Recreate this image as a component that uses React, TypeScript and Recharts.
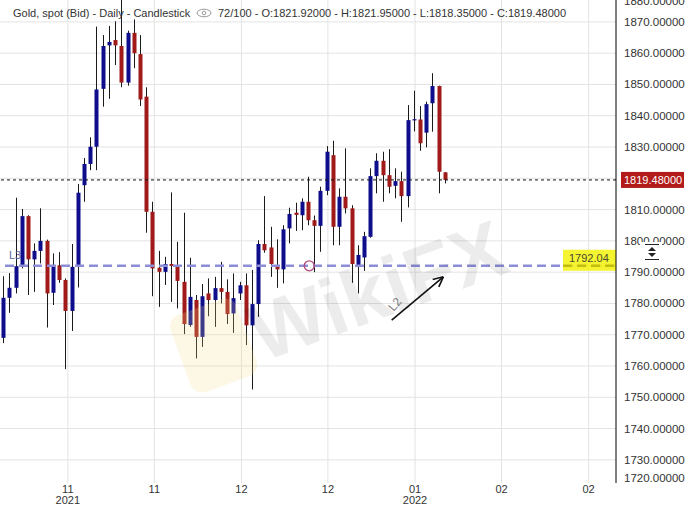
import React from 'react';
import { ComposedChart, Bar, XAxis, YAxis, CartesianGrid, ReferenceLine, ReferenceDot } from 'recharts';

const FONT = "'Liberation Sans', Arial, sans-serif";

const opens = [1769.0, 1781.8, 1785.0, 1791.7, 1807.9, 1794.1, 1796.8, 1800.0, 1783.4, 1792.2, 1787.5, 1777.6, 1792.2, 1817.8, 1824.6, 1830.1, 1848.6, 1862.5, 1864.2, 1862.3, 1850.6, 1866.5, 1859.7, 1846.1, 1809.3, 1791.4, 1790.1, 1792.6, 1791.7, 1786.9, 1773.1, 1781.1, 1769.3, 1783.2, 1781.1, 1784.9, 1783.7, 1776.8, 1783.2, 1785.8, 1773.0, 1779.8, 1799.0, 1797.9, 1791.9, 1790.9, 1804.0, 1809.0, 1808.2, 1812.5, 1806.6, 1804.8, 1816.0, 1827.4, 1804.5, 1814.1, 1810.4, 1792.3, 1794.7, 1801.3, 1820.7, 1825.6, 1821.0, 1817.6, 1819.1, 1814.3, 1838.6, 1838.8, 1834.6, 1844.0, 1849.5, 1821.92];
const highs = [1788.7, 1789.7, 1813.8, 1810.2, 1808.2, 1799.2, 1810.4, 1800.4, 1796.0, 1796.4, 1788.0, 1799.0, 1818.2, 1826.5, 1833.1, 1868.5, 1865.8, 1868.7, 1870.2, 1877.5, 1867.2, 1870.8, 1865.8, 1849.1, 1812.5, 1796.8, 1794.9, 1815.5, 1799.7, 1809.0, 1794.6, 1782.7, 1786.2, 1788.0, 1788.5, 1793.3, 1787.7, 1789.6, 1786.9, 1789.6, 1790.7, 1800.2, 1814.3, 1804.5, 1800.5, 1805.0, 1810.6, 1812.2, 1813.6, 1820.5, 1808.1, 1817.3, 1830.3, 1832.0, 1816.8, 1829.6, 1811.4, 1798.6, 1802.9, 1823.2, 1828.0, 1828.5, 1829.3, 1823.2, 1822.1, 1843.4, 1848.0, 1843.1, 1844.5, 1853.6, 1849.6, 1821.95];
const lows = [1767.3, 1777.0, 1783.2, 1791.2, 1782.7, 1783.7, 1792.8, 1772.3, 1779.5, 1786.6, 1759.0, 1771.2, 1785.1, 1812.5, 1822.6, 1822.6, 1842.9, 1845.4, 1856.2, 1849.1, 1849.6, 1855.2, 1843.1, 1802.6, 1782.3, 1778.9, 1785.9, 1780.5, 1778.4, 1770.2, 1772.5, 1762.4, 1766.1, 1775.9, 1772.5, 1780.0, 1773.4, 1770.6, 1781.1, 1766.7, 1752.5, 1775.7, 1796.2, 1788.5, 1785.0, 1786.4, 1799.2, 1803.2, 1803.4, 1805.0, 1790.0, 1796.5, 1814.6, 1798.6, 1798.6, 1808.8, 1786.6, 1783.2, 1790.4, 1801.0, 1815.2, 1812.5, 1815.2, 1813.6, 1806.1, 1810.7, 1835.0, 1828.8, 1829.9, 1834.9, 1815.2, 1818.35];
const closes = [1781.8, 1785.0, 1791.9, 1807.9, 1794.1, 1796.8, 1800.0, 1783.2, 1791.9, 1787.5, 1777.6, 1791.7, 1815.4, 1824.6, 1830.1, 1848.4, 1862.3, 1863.6, 1862.5, 1850.6, 1866.5, 1860.0, 1845.2, 1809.3, 1791.2, 1790.1, 1792.6, 1792.0, 1787.2, 1773.4, 1782.1, 1769.3, 1782.3, 1781.1, 1784.9, 1783.7, 1776.6, 1781.7, 1785.8, 1773.0, 1779.8, 1799.0, 1797.0, 1792.6, 1790.9, 1803.7, 1808.6, 1808.3, 1812.5, 1806.6, 1804.8, 1816.0, 1828.5, 1804.5, 1814.1, 1810.4, 1792.6, 1795.5, 1801.5, 1820.7, 1825.6, 1821.0, 1817.3, 1819.1, 1814.3, 1838.6, 1838.9, 1831.2, 1843.7, 1849.5, 1822.1, 1819.48];

const totalSlots = 99;
const yTicks = [1720, 1730, 1740, 1750, 1760, 1770, 1780, 1790, 1800, 1810, 1820, 1830, 1840, 1850, 1860, 1870, 1880];
const gridValues = [1730, 1740, 1750, 1760, 1770, 1780, 1790, 1800, 1810, 1820, 1830, 1840, 1850, 1860, 1870];
const xTickPos = [10.4, 24.3, 38.3, 52.2, 66.2, 80.1, 94.1];
const xTickMonth = ['11', '11', '12', '12', '01', '02', '02'];
const xTickYear = ['2021', '', '', '', '2022', '', ''];
const lastPrice = 1819.48;
const levelL3 = 1792.04;
const circlePoint = { x: 49.2, y: 1792.04 };
const arrowFrom = { x: 62.45, y: 1774.7 };
const arrowTo = { x: 70.75, y: 1788.5 };
const headerLeft = 'Gold, spot (Bid) - Daily - Candlestick';
const headerRight = '72/100 - O:1821.92000 - H:1821.95000 - L:1818.35000 - C:1819.48000';

const CHART_W = 688;
const CHART_H = 507;
const XAXIS_H = 24;
const AXIS_Y = CHART_H - XAXIS_H;

const BLUE = '#0e0e8c';
const RED = '#a01a1a';

const data = Array.from({ length: totalSlots }, (_, i) =>
  i < opens.length
    ? { i, o: opens[i], h: highs[i], l: lows[i], c: closes[i], range: [lows[i], highs[i]] }
    : { i, range: null }
);

const Candle = (props: any) => {
  const { x, width, payload } = props;
  let { y, height } = props;
  if (!payload || payload.o == null || height == null) return null;
  if (height < 0) { y += height; height = -height; }
  const { o, h, l, c } = payload;
  const k = height / (h - l);
  const rc = Math.round(x + width / 2);
  const yO = y + (h - o) * k;
  const yC = y + (h - c) * k;
  const up = c >= o;
  const top = Math.min(yO, yC);
  const bh = Math.max(Math.abs(yO - yC), 1.2);
  return (
    <g>
      <line x1={rc + 0.5} x2={rc + 0.5} y1={y} y2={y + height} stroke="#1a1a1a" strokeWidth={1} />
      <rect x={rc - 1.5} y={top} width={4} height={bh} fill={up ? BLUE : RED} />
    </g>
  );
};

const YTick = (props: any) => {
  const { x, y, payload } = props;
  const v = Number(payload.value);
  // the last-price marker hides the tick label it sits on
  if (Math.abs(v - lastPrice) < 3) return null;
  const yy = Math.min(Math.max(y, 1), AXIS_Y - 5);
  return (
    <text x={x + 8} y={yy} dy={4} fontSize={11.5} fill="#333" fontFamily={FONT}>
      {v.toFixed(5)}
    </text>
  );
};

const XTick = (props: any) => {
  const { x, payload } = props;
  const idx = xTickPos.indexOf(payload.value);
  if (idx < 0) return null;
  return (
    <g>
      <text x={x} y={AXIS_Y + 10} textAnchor="middle" fontSize={11} fill="#333" fontFamily={FONT}>{xTickMonth[idx]}</text>
      {xTickYear[idx] ? (
        <text x={x} y={AXIS_Y + 21} textAnchor="middle" fontSize={11} fill="#333" fontFamily={FONT}>{xTickYear[idx]}</text>
      ) : null}
    </g>
  );
};

const LastPriceLabel = (props: any) => {
  const vb = props.viewBox || {};
  const right = vb.x + vb.width;
  const y = vb.y;
  return (
    <g>
      <rect x={right + 5} y={y - 8} width={63} height={16} fill="#b31b1b" />
      <text x={right + 8} y={y + 4} fontSize={11} fill="#fff" fontFamily={FONT}>{lastPrice.toFixed(5)}</text>
    </g>
  );
};

const L3Label = (props: any) => {
  const vb = props.viewBox || {};
  const right = vb.x + vb.width;
  const y = vb.y;
  return (
    <g>
      <text x={vb.x + 9} y={y - 7} fontSize={11} fill="#5a68aa" fontFamily={FONT}>L3</text>
      <rect x={right - 53} y={y - 16} width={53} height={21} fill="#f3f31a" opacity={0.9} />
      <line x1={right - 53} x2={right} y1={y} y2={y} stroke="#c4bd10" strokeWidth={2.5} strokeDasharray="9 5" />
      <text x={right - 47} y={y - 4} fontSize={11} fill="#4a4a30" fontFamily={FONT}>{levelL3.toFixed(2)}</text>
    </g>
  );
};

const ArrowShape = (props: any) => {
  const { x1, y1, x2, y2 } = props;
  if (x1 == null) return null;
  const ang = Math.atan2(y2 - y1, x2 - x1);
  const len = 11;
  const a1 = ang + Math.PI - 0.45;
  const a2 = ang + Math.PI + 0.45;
  return (
    <g>
      <line x1={x1} y1={y1} x2={x2} y2={y2} stroke="#111" strokeWidth={1.6} />
      <line x1={x2} y1={y2} x2={x2 + len * Math.cos(a1)} y2={y2 + len * Math.sin(a1)} stroke="#111" strokeWidth={1.6} />
      <line x1={x2} y1={y2} x2={x2 + len * Math.cos(a2)} y2={y2 + len * Math.sin(a2)} stroke="#111" strokeWidth={1.6} />
      <text x={x1 + 2} y={y1 - 8} fontSize={12} fill="#888" fontFamily={FONT} transform={`rotate(-50 ${x1 + 2} ${y1 - 8})`}>L2</text>
    </g>
  );
};

export default function App() {
  return (
    <div style={{ position: 'absolute', left: 0, top: 0, width: CHART_W, height: CHART_H, background: '#fff', fontFamily: FONT }}>
      <ComposedChart width={CHART_W} height={CHART_H} data={data} margin={{ top: 0, right: 0, bottom: 0, left: 0 }} barCategoryGap="10%">
        <CartesianGrid xAxisId="t" stroke="#e3e3e3" horizontalValues={gridValues} verticalValues={xTickPos} />
        <XAxis xAxisId="c" dataKey="i" type="category" hide />
        <XAxis
          xAxisId="t"
          dataKey="i"
          type="number"
          domain={[-0.5, totalSlots - 0.5]}
          allowDataOverflow
          ticks={xTickPos}
          interval={0}
          height={XAXIS_H}
          tickLine={false}
          axisLine={{ stroke: '#000' }}
          tick={<XTick />}
        />
        <YAxis
          orientation="right"
          width={72}
          domain={[1722.6, 1877]}
          allowDataOverflow
          ticks={yTicks}
          interval={0}
          tickLine={false}
          tickSize={0}
          tickMargin={0}
          axisLine={{ stroke: '#000' }}
          tick={<YTick />}
        />
        <Bar xAxisId="c" dataKey="range" shape={<Candle />} isAnimationActive={false} />
        <ReferenceLine xAxisId="t" y={levelL3} stroke="#8e8ed8" strokeWidth={2.5} strokeDasharray="9 5" label={(p: any) => <L3Label {...p} />} />
        <ReferenceLine xAxisId="t" y={lastPrice} stroke="#111" strokeWidth={1} strokeDasharray="3 3" label={(p: any) => <LastPriceLabel {...p} />} />
        <ReferenceDot xAxisId="t" x={circlePoint.x} y={circlePoint.y} r={5} fill="none" stroke="#b04a7e" strokeWidth={1.3} />
        <ReferenceLine xAxisId="t" segment={[arrowFrom, arrowTo]} shape={(p: any) => <ArrowShape {...p} />} />
      </ComposedChart>
      <svg width={CHART_W} height={CHART_H} style={{ position: 'absolute', left: 0, top: 0, pointerEvents: 'none' }}>
        <g transform="rotate(-20 330 300)">
          <rect x={170} y={262} width={70} height={82} rx={12} fill="#f4dc8a" opacity={0.22} />
          <text x={245} y={335} fontSize={80} fontWeight="bold" fill="#000" opacity={0.07} fontFamily={FONT}>WikiFX</text>
        </g>
        <text x={13} y={17} fontSize={11} fill="#333" fontFamily={FONT}>{headerLeft}</text>
        <g>
          <ellipse cx={204} cy={13} rx={7} ry={3.8} fill="none" stroke="#999" strokeWidth={1} />
          <circle cx={204} cy={13} r={1.8} fill="none" stroke="#999" strokeWidth={1} />
        </g>
        <text x={218} y={17} fontSize={11} fill="#333" fontFamily={FONT}>{headerRight}</text>
        <g>
          <rect x={640} y={242} width={22} height={20} fill="#fff" />
          <line x1={645} x2={659} y1={244.5} y2={244.5} stroke="#222" strokeWidth={1} />
          <polygon points="648,251 656,251 652,247" fill="#222" />
          <polygon points="648,253 656,253 652,257" fill="#222" />
          <line x1={645} x2={659} y1={259.5} y2={259.5} stroke="#222" strokeWidth={1} />
        </g>
      </svg>
    </div>
  );
}
